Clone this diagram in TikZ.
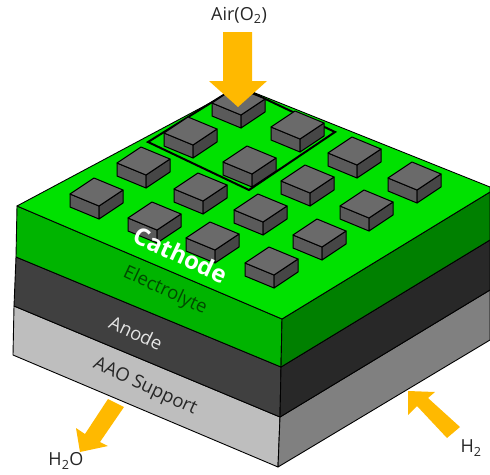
\documentclass[tikz,border=0pt]{standalone}
\usepackage{fontspec}
\setmainfont{Open Sans}
\definecolor{topgreen}{HTML}{00E100}
\definecolor{leftgreen}{HTML}{00B400}
\definecolor{rightgreen}{HTML}{008000}
\definecolor{leftdark}{HTML}{404040}
\definecolor{rightdark}{HTML}{282828}
\definecolor{leftgrey}{HTML}{BEBEBE}
\definecolor{rightgrey}{HTML}{808080}
\definecolor{blocktop}{HTML}{6A6A6A}
\definecolor{blockleft}{HTML}{5A5A5A}
\definecolor{blockright}{HTML}{464646}
\definecolor{flowarrow}{HTML}{FFB900}
\definecolor{electrolytetext}{HTML}{004A00}
\tikzset{
	slab/.style={draw=black, line width=0.9pt, line join=round},
	blockface/.style={draw=black, line width=1pt, line join=round},
	flow/.style={fill=flowarrow},
	gaslabel/.style={font=\fontsize{18}{20}\selectfont, text=black!85},
	layerlabel/.style={font=\fontsize{18.5}{20}\selectfont, rotate=-25, inner sep=0pt},
}
\def\gridblock(#1,#2){
	\draw[blockface, fill=blockleft] (#1,#2) -- ++(-29,-12) -- ++(0,13) -- ++(29,12) -- cycle;
	\draw[blockface, fill=blockright] (#1,#2) -- ++(24,-16) -- ++(0,13) -- ++(-24,16) -- cycle;
	\draw[blockface, fill=blocktop] (#1,#2) -- ++(-29,-12) -- ++(24,-16) -- ++(29,12) -- cycle;
}

\begin{document}
\begin{tikzpicture}[x=1pt, y=-1pt]
	\useasboundingbox (0,0) rectangle (490,474);

	% cell layers
	\draw[slab, fill=leftgrey] (14,306) -- (280,417) -- (278,467) -- (13,355) -- cycle;
	\draw[slab, fill=rightgrey] (280,417) -- (490,290) -- (490,340) -- (278,467) -- cycle;
	\draw[slab, fill=leftdark] (16,257) -- (281,367) -- (280,417) -- (14,306) -- cycle;
	\draw[slab, fill=rightdark] (281,367) -- (490,240) -- (490,290) -- (280,417) -- cycle;
	\draw[slab, fill=leftgreen] (17,206) -- (282,319) -- (281,367) -- (16,257) -- cycle;
	\draw[slab, fill=rightgreen] (282,319) -- (490,192) -- (490,240) -- (281,367) -- cycle;
	\draw[slab, fill=topgreen] (240,87) -- (17,206) -- (282,319) -- (490,192) -- (490,187) -- cycle;

	% unit cell outline
	\draw[line width=2pt, line join=miter] (238,86) -- (148,142) -- (249,190) -- (335,132) -- cycle;

	% blocks, back to front
	\gridblock(241,115);
	\gridblock(193,145);
	\gridblock(300,139);
	\gridblock(252,174);
	\gridblock(146,175);
	\gridblock(357,165);
	\gridblock(417,190);
	\gridblock(203,201);
	\gridblock(310,193);
	\gridblock(99,206);
	\gridblock(263,222);
	\gridblock(369,218);
	\gridblock(157,230);
	\gridblock(215,250);
	\gridblock(322,247);
	\gridblock(274,275);

	% gas arrows
	\fill[flow] (223,32) -- (252,32) -- (252,81) -- (267,81) -- (238,107) -- (209,81) -- (223,81) -- cycle;
	\fill[flow] (108,399) -- (124,407) -- (100,442) -- (108,446) -- (80,452) -- (76,428) -- (85,434) -- cycle;
	\fill[flow] (408,391) -- (435,392) -- (428,398) -- (460,427) -- (447,438) -- (417,406) -- (408,415) -- cycle;

	% labels
	\node[gaslabel] (airlabel) at (239,15) {Air(O\textsubscript{2})};
	\node[gaslabel] (waterlabel) at (66,461) {H\textsubscript{2}O};
	\node[gaslabel] (hydrogenlabel) at (471,448) {H\textsubscript{2}};
	\node[layerlabel, text=white, font=\fontsize{24}{26}\selectfont\bfseries] (cathodelabel) at (181,255) {Cathode};
	\node[layerlabel, text=electrolytetext] (electrolytelabel) at (165,291) {Electrolyte};
	\node[layerlabel, text=black!10] (anodelabel) at (136,333) {Anode};
	\node[layerlabel, text=black!85] (supportlabel) at (145,387) {AAO Support};
\end{tikzpicture}
\end{document}
